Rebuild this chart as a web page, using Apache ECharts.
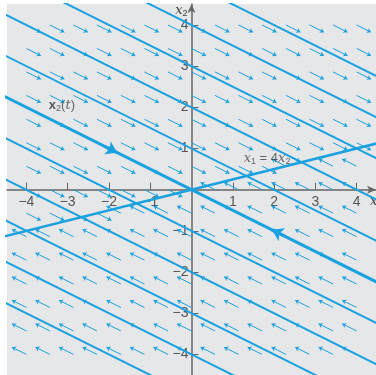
<!DOCTYPE html>
<html><head><meta charset="utf-8">
<script src="https://cdn.jsdelivr.net/npm/echarts@6/dist/echarts.min.js"></script>
<style>html,body{margin:0;padding:0;background:#fff}#c{width:376px;height:375px}</style>
</head><body><div id="c"></div>
<script>
// ---- data ----
const xTicks = [-4, -3, -2, -1, 1, 2, 3, 4];
const yTicks = [-4, -3, -2, -1, 1, 2, 3, 4];
// trajectories: straight lines x2 = b + slope * x1
const trajIntercepts = [-5, -4, -3, -2, -1, 1, 2, 3, 4, 5];
const mainIntercepts = [0];
const trajSlope = -0.5;
// line of equilibria x1 = 4 x2
const equilibriumSlope = 0.25;
// direction field sample points
const fieldX = [-4, -3.43, -2.86, -2.29, -1.71, -1.14, -0.57, 0, 0.57, 1.14, 1.71, 2.29, 2.86, 3.43, 4];
const fieldY = [-4, -3.43, -2.86, -2.29, -1.71, -1.14, -0.57, 0, 0.57, 1.14, 1.71, 2.29, 2.86, 3.43, 4];
const arrowDX = 0.35, arrowDY = -0.175;
// arrows on the main trajectory
const flowArrowX = [-1.8, 1.95];
const flowArrowY = [0.9, -0.975];
const flowArrowDir = [1, -1];
// annotations
const noteText = ['x2t', 'eq'];
const noteX = [-3.14, 1.83];
const noteY = [2.04, 0.75];

const XMIN = -4.47, XMAX = 4.47, YMIN = -4.5, YMAX = 4.51;
const GL = 7, GR = 0, GT = 4, GB = 0, W = 376, H = 375;
const BLUE = '#1aa1e0';
const AX = '#666';

// place the axes through the origin
const gw = W - GL - GR, gh = H - GT - GB;
const xAxisOffset = -(gh * (0 - YMIN) / (YMAX - YMIN));
const yAxisOffset = -(gw * (0 - XMIN) / (XMAX - XMIN));

const lineData = bs => bs.map(b => ({coords: [[XMIN - 1, b + trajSlope * (XMIN - 1)], [XMAX + 1, b + trajSlope * (XMAX + 1)]]}));
const fieldData = [];
fieldX.forEach(x => fieldY.forEach(y => {
  const s = Math.sign(4 * y - x);
  if (s === 0) return;
  fieldData.push({coords: [[x, y], [x + s * arrowDX, y + s * arrowDY]]});
}));
const flowData = flowArrowX.map((x, i) => ({coords: [[x - flowArrowDir[i] * 0.3, flowArrowY[i] - flowArrowDir[i] * 0.3 * trajSlope], [x, flowArrowY[i]]]}));

const fmt = v => v < 0 ? '\u2212' + (-v) : String(v);
const nameRich = {
  i: {fontStyle: 'italic', fontFamily: 'DejaVu Serif', fontSize: 13, color: '#444'},
  s: {fontSize: 9, fontFamily: 'Liberation Sans', color: '#444', verticalAlign: 'bottom', padding: [6, 0, 0, 0]}
};
const chart = echarts.init(document.getElementById('c'));
chart.setOption({
  animation: false,
  backgroundColor: '#fff',
  grid: {left: GL, right: GR, top: GT, bottom: GB, containLabel: false, outerBoundsMode: 'none',
    show: true, backgroundColor: '#e6e7e8', borderWidth: 0},
  xAxis: {
    type: 'value', min: XMIN, max: XMAX, position: 'bottom', offset: xAxisOffset,
    name: '{i|x}{s|1}', nameLocation: 'end', nameGap: -6,
    nameTextStyle: {align: 'left', verticalAlign: 'top', padding: [4, 0, 0, 0], rich: nameRich},
    axisLine: {onZero: false, symbol: ['none', 'arrow'], symbolSize: [6, 9], lineStyle: {color: AX, width: 1.5}},
    axisTick: {show: true, inside: true, length: 7, customValues: xTicks, lineStyle: {color: AX, width: 1}},
    axisLabel: {customValues: xTicks, formatter: fmt, color: '#555', fontSize: 14, fontFamily: 'Liberation Sans', margin: 5},
    splitLine: {show: false}
  },
  yAxis: {
    type: 'value', min: YMIN, max: YMAX, position: 'left', offset: yAxisOffset,
    name: '{i|x}{s|2}', nameLocation: 'end', nameGap: -1,
    nameTextStyle: {align: 'right', verticalAlign: 'top', padding: [0, 4, 0, 0], rich: nameRich},
    axisLine: {onZero: false, symbol: ['none', 'arrow'], symbolSize: [6, 9], lineStyle: {color: AX, width: 1.5}},
    axisTick: {show: true, inside: true, length: 7, customValues: yTicks, lineStyle: {color: AX, width: 1}},
    axisLabel: {customValues: yTicks, formatter: fmt, color: '#555', fontSize: 14, fontFamily: 'Liberation Sans', margin: 3},
    splitLine: {show: false}
  },
  series: [
    {type: 'lines', coordinateSystem: 'cartesian2d', clip: true, silent: true, z: 3,
      lineStyle: {color: BLUE, width: 2, opacity: 1}, data: lineData(trajIntercepts)},
    {type: 'lines', coordinateSystem: 'cartesian2d', clip: true, silent: true, z: 3,
      lineStyle: {color: BLUE, width: 3, opacity: 1}, data: lineData(mainIntercepts)},
    {type: 'lines', coordinateSystem: 'cartesian2d', clip: true, silent: true, z: 3,
      lineStyle: {color: BLUE, width: 2.6, opacity: 1},
      data: [{coords: [[XMIN - 1, equilibriumSlope * (XMIN - 1)], [XMAX + 1, equilibriumSlope * (XMAX + 1)]]}]},
    {type: 'lines', coordinateSystem: 'cartesian2d', clip: true, silent: true, z: 2,
      symbol: ['none', 'arrow'], symbolSize: 4,
      lineStyle: {color: BLUE, width: 1, opacity: 1}, data: fieldData},
    {type: 'lines', coordinateSystem: 'cartesian2d', clip: true, silent: true, z: 4,
      symbol: ['none', 'arrow'], symbolSize: 11,
      lineStyle: {color: BLUE, width: 3, opacity: 1}, data: flowData},
    {type: 'scatter', symbolSize: 0, silent: true, z: 5,
      data: noteX.map((x, i) => ({value: [x, noteY[i]], name: noteText[i]})),
      label: {show: true, position: 'inside', color: '#333',
        formatter: p => p.name === 'x2t' ? '{b|x}{s|2}{n|(}{i|t}{n|)}' : '{i|x}{s|1}{n| = 4}{i|x}{s|2}',
        rich: {
          b: {fontWeight: 'bold', fontFamily: 'Liberation Sans', fontSize: 13, color: '#333'},
          i: {fontStyle: 'italic', fontFamily: 'DejaVu Serif', fontSize: 13, color: '#444'},
          n: {fontFamily: 'Liberation Sans', fontSize: 13, color: '#444'},
          s: {fontSize: 9, fontFamily: 'Liberation Sans', color: '#444', verticalAlign: 'bottom', padding: [6, 0, 0, 0]}
        }}}
  ]
});
</script></body></html>
